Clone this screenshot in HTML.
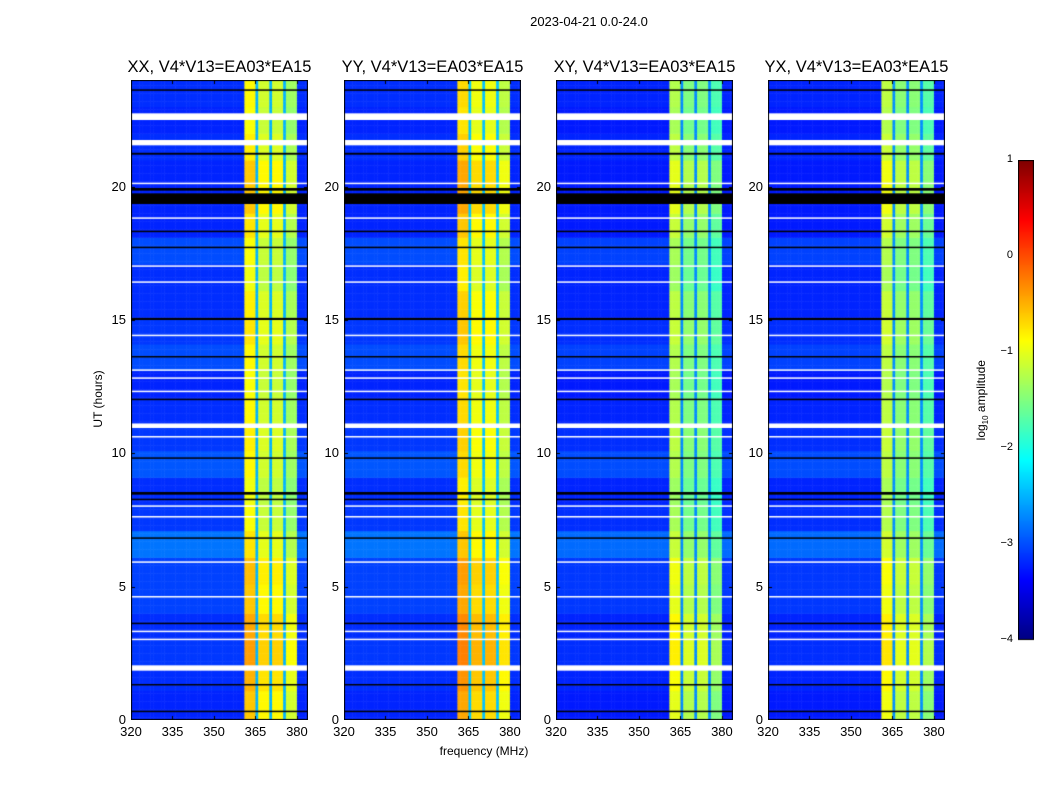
<!DOCTYPE html>
<html><head><meta charset="utf-8">
<style>
body{margin:0;background:#fff;width:1050px;height:800px;position:relative;font-family:"Liberation Sans",sans-serif;overflow:hidden}
.t{position:absolute;white-space:nowrap;color:#000}
canvas{position:absolute}
</style></head><body>
<div class="t" style="left:489px;top:14px;width:200px;text-align:center;font-size:13px">2023-04-21 0.0-24.0</div>
<div class="t" style="left:384px;top:744px;width:200px;text-align:center;font-size:12px">frequency (MHz)</div>
<div class="t" style="left:48px;top:392px;width:100px;text-align:center;font-size:12px;transform:rotate(-90deg)">UT (hours)</div>
<div id="root"></div>
<script>
// ---- data ----
const panelTitles = ["XX, V4*V13=EA03*EA15","YY, V4*V13=EA03*EA15","XY, V4*V13=EA03*EA15","YX, V4*V13=EA03*EA15"];
const panelLefts = [131,344,556,768];
const panelOffset = [0, 0.15, -0.4, -0.35];
const xTicks = [320,335,350,365,380];
const yTicks = [0,5,10,15,20];
const freqBins = [];
for(let f=320; f<384; f++) freqBins.push(f);
const bandEdges = [360.5, 380];
const notches = [365.3, 370.3, 375.3];
const subbandLevel = [0.3, 0.05, 0.05, -0.2];
const bandByHour = [-0.9,-0.8,-0.7,-0.75,-0.9,-0.85,-1.05,-1.2,-1.25,-1.15,-1.1,-1.15,-1.2,-1.15,-1.05,-1.1,-1.25,-1.2,-1.05,-0.9,-0.9,-1.1,-1.2,-1.15];
const bgByHour = [-3.2,-3.15,-3.1,-3.15,-3.05,-3.05,-2.8,-3.1,-3.15,-2.95,-3.1,-3.15,-3.2,-3.0,-3.1,-3.15,-3.15,-3.0,-3.2,-3.2,-3.2,-3.15,-3.2,-3.15];
const whiteGaps = [[22.5,22.75],[21.55,21.75],[1.85,2.05],[10.95,11.12],[17.0,17.05],[16.4,16.45],[14.4,14.45],[12.8,12.85],[12.3,12.35],[10.6,10.65],[8.0,8.05],[7.6,7.65],[5.9,5.95],[4.6,4.65],[3.3,3.35],[3.0,3.05],[18.8,18.85],[20.1,20.15],[13.1,13.15]];
const blackLines = [[19.35,19.75],[19.85,19.95],[23.6,23.65],[21.2,21.27],[18.3,18.35],[17.7,17.75],[15.0,15.08],[13.6,13.65],[12.0,12.05],[9.8,9.85],[8.45,8.55],[8.25,8.3],[6.8,6.85],[3.6,3.65],[1.3,1.35],[0.3,0.35]];
const cbTicks = [1,0,-1,-2,-3,-4];

// ---- axes ----
const PW=177, TOP=80, BOT=720;
const xScale = f => (f-320)*(PW/64);
const yScale = h => BOT-TOP - h*(BOT-TOP)/24;
function jet(v){
  let t=Math.max(0,Math.min(1,(v+4)/5));
  const c=x=>Math.round(255*Math.max(0,Math.min(1,x)));
  return `rgb(${c(1.5-Math.abs(4*t-3))},${c(1.5-Math.abs(4*t-2))},${c(1.5-Math.abs(4*t-1))})`;
}
function valueAt(p,f,h){
  const hi=Math.min(23,Math.floor(h));
  if(f<bandEdges[0]||f>=bandEdges[1]) return bgByHour[hi] + (p>=2?-0.05:0);
  for(const n of notches) if(Math.abs(f+0.5-n)<0.6) return -2.5+panelOffset[p]*0.5;
  let sb = f<365 ? 0 : f<370 ? 1 : f<375 ? 2 : 3;
  return bandByHour[hi]+subbandLevel[sb]+panelOffset[p];
}
const root=document.getElementById('root');
panelLefts.forEach((L,p)=>{
  const cv=document.createElement('canvas');
  
  
  cv.width=PW; cv.height=BOT-TOP;
  cv.style.left=L+'px'; cv.style.top=TOP+'px';
  root.appendChild(cv);
  const g=cv.getContext('2d');
  const dh=0.1;
  for(let h=0;h<24;h+=dh){
    const y0=yScale(h+dh), y1=yScale(h);
    freqBins.forEach(f=>{
      g.fillStyle=jet(valueAt(p,f,h));
      g.fillRect(xScale(f),y0,PW/64+0.5,y1-y0+0.5);
    });
  }
  whiteGaps.forEach(([a,b])=>{g.fillStyle='#fff';g.fillRect(0,yScale(b),PW,Math.max(1.5,yScale(a)-yScale(b)));});
  blackLines.forEach(([a,b])=>{g.fillStyle='#000';g.fillRect(0,yScale(b),PW,Math.max(1.5,yScale(a)-yScale(b)));});
  g.strokeStyle='#000';g.lineWidth=1;g.strokeRect(0.5,0.5,PW-1,BOT-TOP-1);
  g.beginPath();
  xTicks.forEach(t=>{const x=Math.round(xScale(t))+0.5;g.moveTo(x,BOT-TOP);g.lineTo(x,BOT-TOP-4);g.moveTo(x,0);g.lineTo(x,4);});
  yTicks.forEach(t=>{const y=Math.round(yScale(t))+0.5;g.moveTo(0,y);g.lineTo(4,y);g.moveTo(PW,y);g.lineTo(PW-4,y);});
  g.stroke();
  const ti=document.createElement('div');ti.className='t';
  
  
  ti.style.cssText=`left:${L-30}px;top:58px;width:${PW+60}px;text-align:center;font-size:16.5px`;
  ti.textContent=panelTitles[p];root.appendChild(ti);
  xTicks.forEach(t=>{const d=document.createElement('div');d.className='t';
    
    
    d.style.cssText=`left:${L+xScale(t)-20}px;top:724px;width:40px;text-align:center;font-size:13px`;d.textContent=t;root.appendChild(d);});
  yTicks.forEach(t=>{const d=document.createElement('div');d.className='t';
    
    
    d.style.cssText=`left:${L-45}px;top:${TOP+yScale(t)-8}px;width:40px;text-align:right;font-size:13px`;d.textContent=t;root.appendChild(d);});
});
const cb=document.createElement('canvas');


cb.width=16;cb.height=481;cb.style.left='1018px';cb.style.top='160px';root.appendChild(cb);
const cg=cb.getContext('2d');
for(let i=0;i<480;i++){cg.fillStyle=jet(1-5*i/480);cg.fillRect(0,i,16,1);}
cg.strokeStyle='#000';cg.strokeRect(0.5,0.5,15,479);
cbTicks.forEach(v=>{const y=160+(1-v)*96;
  const d=document.createElement('div');d.className='t';
  
  
  d.style.cssText=`left:985px;top:${y-7}px;width:28px;text-align:right;font-size:11px`;d.textContent=v<0?'\u2212'+(-v):v;root.appendChild(d);});
</script>
<div class="t" style="left:922px;top:392px;width:120px;text-align:center;font-size:12px;transform:rotate(-90deg)">log<sub style="font-size:8px">10</sub> amplitude</div>
</body></html>
